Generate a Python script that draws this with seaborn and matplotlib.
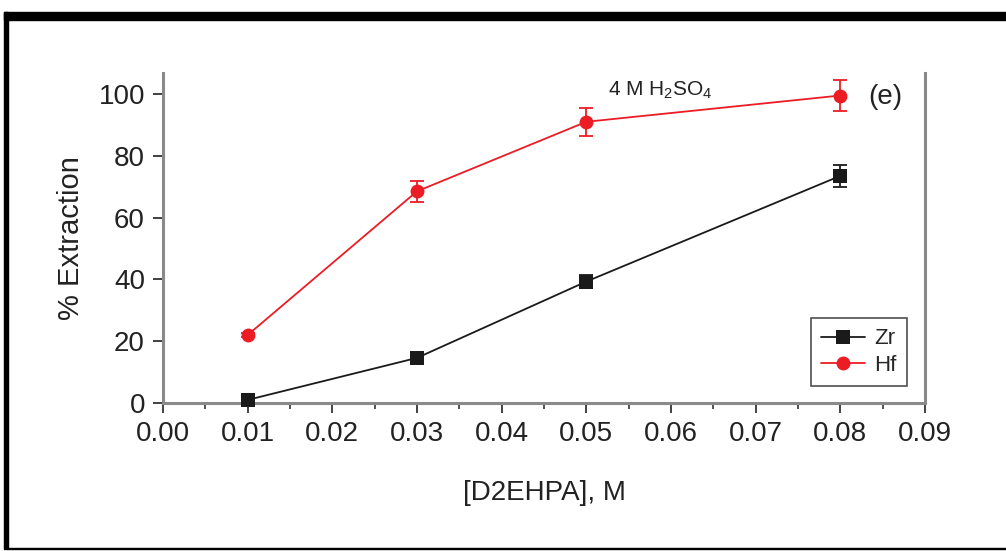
import matplotlib
matplotlib.use("Agg")
import matplotlib.pyplot as plt
from matplotlib.patches import Rectangle
from matplotlib.ticker import MultipleLocator
import seaborn as sns
import pandas as pd
import numpy as np

# ---- data ----
conc = [0.01, 0.03, 0.05, 0.08]
zr_ext = [1.0, 14.6, 39.3, 73.5]
zr_err = [0.5, 0.8, 2.0, 3.5]
hf_ext = [22.0, 68.5, 91.0, 99.5]
hf_err = [0.5, 3.4, 4.6, 5.0]
series = ["Zr", "Hf"]
colors = {"Zr": "#1a1a1a", "Hf": "#ec1c24"}
markers = {"Zr": "s", "Hf": "o"}
x_ticks = [0.00, 0.01, 0.02, 0.03, 0.04, 0.05, 0.06, 0.07, 0.08, 0.09]
y_ticks = [0, 20, 40, 60, 80, 100]

df = pd.DataFrame({
    "conc": conc * 2,
    "ext": zr_ext + hf_ext,
    "err": zr_err + hf_err,
    "metal": ["Zr"] * len(conc) + ["Hf"] * len(conc),
})

sns.set_theme(style="ticks")
plt.rcParams["font.family"] = ["Liberation Sans", "DejaVu Sans"]
plt.rcParams["mathtext.fontset"] = "custom"
plt.rcParams["mathtext.rm"] = "Liberation Sans"

fig = plt.figure(figsize=(10.06, 5.51), dpi=100)
ax = fig.add_axes([0.162, 0.2686, 0.7575, 0.599])

for m in series:
    sub = df[df["metal"] == m]
    ax.errorbar(sub["conc"], sub["ext"], yerr=sub["err"], fmt="none",
                ecolor=colors[m], elinewidth=1.3, capsize=5, capthick=1.3,
                zorder=1, clip_on=False)

sns.lineplot(data=df, x="conc", y="ext", hue="metal", style="metal",
             hue_order=series, style_order=series, palette=colors,
             markers=markers, dashes=False, markersize=10, linewidth=1.3,
             markeredgewidth=0, ax=ax)
for ln in ax.lines:
    if ln.get_marker() in ("s", "o"):
        ln.set_zorder(4)
        ln.set_clip_on(False)

ax.set_xlim(0, 0.09)
ax.set_ylim(0, 106.8)
ax.set_xticks(x_ticks)
ax.set_xticklabels([f"{t:.2f}" for t in x_ticks])
ax.set_yticks(y_ticks)
ax.xaxis.set_minor_locator(MultipleLocator(0.005))

for s in ["left", "bottom", "right"]:
    ax.spines[s].set_color("#8a8a8a")
    ax.spines[s].set_linewidth(2.2)
ax.spines["top"].set_visible(False)

ax.tick_params(axis="both", which="major", direction="out", length=7,
               width=1.3, color="#333333", labelsize=20, pad=6,
               labelcolor="#222222", bottom=True, left=True, top=False, right=False)
ax.tick_params(axis="x", which="minor", direction="out", length=4,
               width=1.2, color="#333333", bottom=True, top=False)
ax.tick_params(axis="y", which="minor", left=False, right=False)

ax.set_xlabel("[D2EHPA], M", fontsize=20, labelpad=24, color="#222222")
ax.set_ylabel("% Extraction", fontsize=21, labelpad=10, color="#222222")

ax.text(0.0526, 101.3, r"4 M H$_2$SO$_4$", fontsize=15, va="center", ha="left",
        color="#222222")
ax.text(0.0833, 99, "(e)", fontsize=20, va="center", ha="left", color="#222222")

leg = ax.legend(loc="lower right", bbox_to_anchor=(0.976, 0.0515),
                borderaxespad=0, fontsize=16, frameon=True, fancybox=False,
                handlelength=2.0, handletextpad=0.4, borderpad=0.45,
                labelspacing=0.25, title=None)
leg.get_frame().set_edgecolor("#222222")
leg.get_frame().set_linewidth(1.2)

# decorative frame
W, H = 1006, 551
fig.patches.append(Rectangle((4 / W, 1 - 20 / H), 1 - 4 / W, 8 / H,
                             transform=fig.transFigure, color="black", zorder=10))
fig.patches.append(Rectangle((4 / W, 1 - 548 / H), 4 / W, (548 - 12) / H,
                             transform=fig.transFigure, color="black", zorder=10))
fig.patches.append(Rectangle((4 / W, 1 - 549 / H), 1 - 4 / W, 1.5 / H,
                             transform=fig.transFigure, color="black", zorder=10))

fig.savefig("out.png", dpi=100)
